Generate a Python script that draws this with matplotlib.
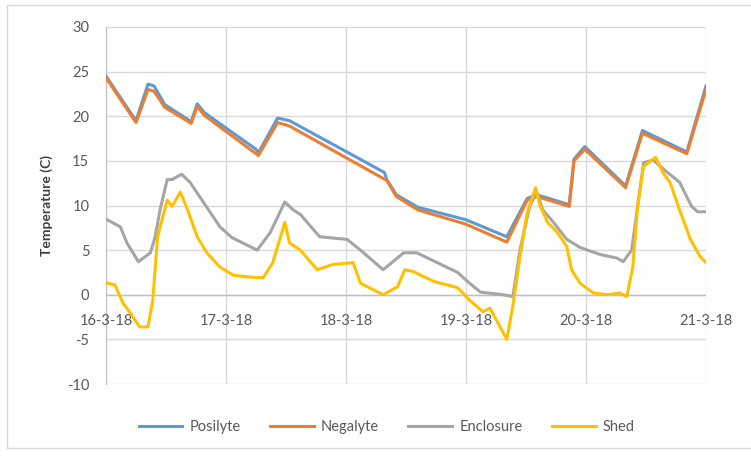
import matplotlib
matplotlib.use("Agg")
import matplotlib.pyplot as plt
from matplotlib.patches import Rectangle

plt.rcParams["font.family"] = ["Lato", "DejaVu Sans"]
plt.rcParams["axes.unicode_minus"] = False

# time in days since 16-3-18 00:00
day_labels = ["16-3-18", "17-3-18", "18-3-18", "19-3-18", "20-3-18", "21-3-18"]

posi_t = [0.00, 0.25, 0.35, 0.40, 0.49, 0.71, 0.76, 0.82, 1.25, 1.27, 1.43, 1.53,
          2.32, 2.34, 2.42, 2.60, 3.00, 3.34, 3.51, 3.59, 3.86, 3.90, 3.99,
          4.33, 4.47, 4.84, 5.00]
posi_v = [24.5, 19.5, 23.6, 23.4, 21.3, 19.4, 21.4, 20.4, 16.3, 15.9, 19.8, 19.5,
          13.7, 12.9, 11.2, 9.8, 8.4, 6.5, 10.8, 11.2, 10.1, 15.2, 16.6,
          12.2, 18.4, 16.0, 23.4]

nega_t = [0.00, 0.25, 0.35, 0.40, 0.49, 0.71, 0.76, 0.82, 1.27, 1.43, 1.53,
          2.34, 2.42, 2.60, 3.00, 3.34, 3.51, 3.59, 3.86, 3.90, 3.99,
          4.33, 4.47, 4.84, 5.00]
nega_v = [24.3, 19.3, 23.0, 22.8, 21.0, 19.2, 21.1, 20.1, 15.6, 19.3, 18.9,
          12.8, 11.0, 9.5, 7.9, 5.9, 10.6, 11.0, 9.9, 15.0, 16.3,
          12.0, 18.1, 15.8, 23.0]

encl_t = [0.01, 0.12, 0.175, 0.27, 0.37, 0.41, 0.45, 0.51, 0.55, 0.63, 0.70,
          0.78, 0.87, 0.95, 1.05, 1.14, 1.26, 1.37, 1.49, 1.56, 1.62, 1.78,
          2.01, 2.12, 2.31, 2.48, 2.59, 2.76, 2.93, 3.03, 3.12, 3.31, 3.39,
          3.45, 3.53, 3.59, 3.64, 3.73, 3.84, 3.95, 4.12, 4.26, 4.31, 4.38,
          4.43, 4.48, 4.56, 4.67, 4.78, 4.88, 4.93, 5.00]
encl_v = [8.4, 7.6, 5.8, 3.7, 4.7, 6.5, 9.5, 12.9, 12.9, 13.5, 12.6,
          11.0, 9.2, 7.6, 6.4, 5.8, 5.0, 7.0, 10.4, 9.5, 9.0, 6.5,
          6.2, 5.0, 2.8, 4.7, 4.7, 3.6, 2.5, 1.3, 0.3, 0.0, -0.2,
          5.0, 9.9, 11.5, 9.5, 8.1, 6.2, 5.3, 4.5, 4.1, 3.7, 5.0,
          9.9, 14.8, 15.1, 13.8, 12.6, 9.9, 9.3, 9.3]

shed_t = [0.01, 0.075, 0.14, 0.20, 0.28, 0.35, 0.39, 0.43, 0.51, 0.55, 0.62,
          0.68, 0.76, 0.84, 0.95, 1.06, 1.18, 1.31, 1.39, 1.49, 1.53, 1.62,
          1.76, 1.89, 2.06, 2.12, 2.31, 2.43, 2.49, 2.56, 2.73, 2.93, 3.03,
          3.14, 3.20, 3.34, 3.39, 3.45, 3.51, 3.58, 3.62, 3.68, 3.76, 3.84,
          3.88, 3.95, 4.06, 4.18, 4.28, 4.34, 4.39, 4.43, 4.48, 4.58, 4.64,
          4.70, 4.78, 4.87, 4.95, 5.00]
shed_v = [1.3, 1.1, -0.9, -2.0, -3.6, -3.6, -0.6, 6.5, 10.6, 9.9, 11.5,
          9.5, 6.5, 4.7, 3.1, 2.2, 2.0, 1.9, 3.6, 8.1, 5.8, 5.0,
          2.8, 3.4, 3.6, 1.3, 0.0, 0.9, 2.8, 2.6, 1.5, 0.8, -0.6,
          -1.9, -1.5, -5.0, -1.3, 4.3, 9.2, 12.0, 9.9, 8.1, 7.0, 5.4,
          2.8, 1.3, 0.2, 0.0, 0.2, -0.2, 3.1, 9.9, 14.4, 15.4, 13.7,
          12.6, 9.5, 6.2, 4.3, 3.6]

BLUE, ORANGE, GRAY, GOLD = "#5B9BD5", "#ED7D31", "#A5A5A5", "#FFC000"
GRID = "#D9D9D9"
TEXT = "#595959"

fig = plt.figure(figsize=(7.51, 4.58), dpi=100)
fig.patches.append(Rectangle((7 / 751, 10 / 458), 1.0, 443 / 458,
                             transform=fig.transFigure, fill=False,
                             edgecolor=GRID, linewidth=1.0))
ax = fig.add_axes([106 / 751, 1 - 384 / 458, 600 / 751, 357 / 458])

ax.plot(posi_t, posi_v, color=BLUE, lw=2.2, label="Posilyte", zorder=3)
ax.plot(nega_t, nega_v, color=ORANGE, lw=2.2, label="Negalyte", zorder=4)
ax.plot(encl_t, encl_v, color=GRAY, lw=2.2, label="Enclosure", zorder=5)
ax.plot(shed_t, shed_v, color=GOLD, lw=2.2, label="Shed", zorder=6)

ax.set_xlim(0, 5)
ax.set_ylim(-10, 30)
ax.set_yticks(range(-10, 31, 5))
ax.set_xticks(range(6))
ax.set_xticklabels([])
ax.grid(True, color=GRID, linewidth=1.0, zorder=0)
ax.set_axisbelow(True)
ax.axhline(0, color="#BFBFBF", linewidth=1.0, zorder=1)
for side in ["top", "right", "bottom"]:
    ax.spines[side].set_visible(False)
ax.spines["left"].set_color("#BFBFBF")
ax.tick_params(axis="both", length=0, colors=TEXT, labelsize=10.5)
ax.tick_params(axis="y", pad=12)

# date labels sit beside the horizontal axis at y = 0
for i, lbl in enumerate(day_labels):
    ax.annotate(lbl, (i, 0), xytext=(0, -19), textcoords="offset points",
                ha="center", va="center", fontsize=10.5, color=TEXT)

ax.set_ylabel("Temperature (C)", fontsize=10, fontweight="bold",
              color="#404040", labelpad=10)

fig.legend(loc="center", bbox_to_anchor=(0.515, 1 - 427 / 458), ncol=4,
           frameon=False, fontsize=10.5, labelcolor=TEXT, handlelength=3.0,
           columnspacing=2.0, handletextpad=0.5)

fig.savefig("out.png", dpi=100)
